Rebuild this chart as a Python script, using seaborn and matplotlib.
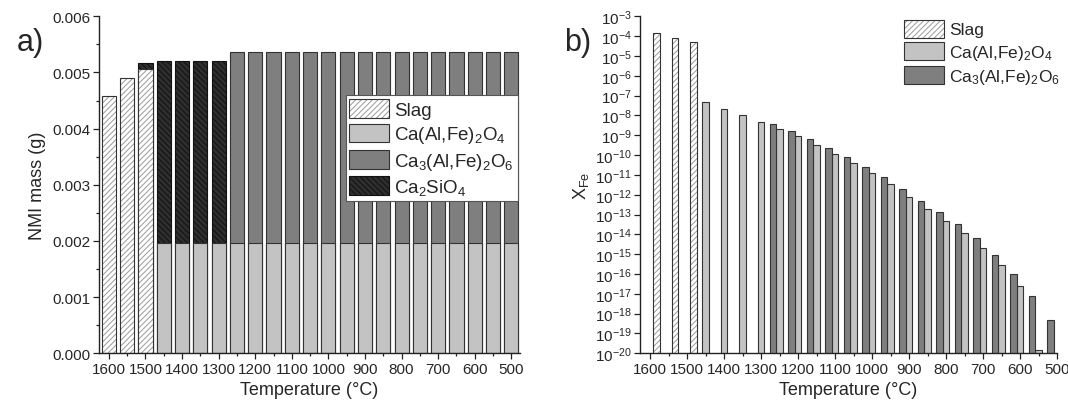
import numpy as np
import pandas as pd
import matplotlib
matplotlib.use("Agg")
import matplotlib.pyplot as plt
import seaborn as sns
from matplotlib.patches import Patch, Rectangle
from matplotlib.ticker import MultipleLocator, FormatStrFormatter, LogLocator, NullLocator

# ------------------------------------------------------------------ data
# panel a) NMI mass (g) per phase, stacked
slag_T = [1600, 1550, 1500]
slag_mass = [0.00458, 0.00490, 0.00506]

caal_T = [1450, 1400, 1350, 1300, 1250, 1200, 1150, 1100, 1050, 1000,
          950, 900, 850, 800, 750, 700, 650, 600, 550, 500]
caal_mass = [0.00197, 0.00197, 0.00197, 0.00197, 0.00197, 0.00197, 0.00197,
             0.00197, 0.00197, 0.00197, 0.00197, 0.00197, 0.00197, 0.00197,
             0.00197, 0.00197, 0.00197, 0.00197, 0.00197, 0.00197]

ca3_T = [1250, 1200, 1150, 1100, 1050, 1000, 950, 900, 850, 800,
         750, 700, 650, 600, 550, 500]
ca3_mass = [0.00339, 0.00339, 0.00339, 0.00339, 0.00339, 0.00339, 0.00339,
            0.00339, 0.00339, 0.00339, 0.00339, 0.00339, 0.00339, 0.00339,
            0.00339, 0.00339]

c2s_T = [1500, 1450, 1400, 1350, 1300]
c2s_mass = [0.00011, 0.00323, 0.00323, 0.00323, 0.00323]

# panel b) X_Fe per phase (log scale)
xfe_slag_T = [1600, 1550, 1500]
xfe_slag = [1.5e-4, 7.7e-5, 5.1e-5]

xfe_caal_T = [1450, 1400, 1350, 1300, 1250, 1200, 1150, 1100, 1050, 1000,
              950, 900, 850, 800, 750, 700, 650, 600, 550]
xfe_caal = [4.5e-8, 2.2e-8, 1.04e-8, 4.7e-9, 2.1e-9, 8.7e-10, 3.4e-10,
            1.18e-10, 4.1e-11, 1.2e-11, 3.4e-12, 8.1e-13, 1.9e-13, 5.0e-14,
            1.2e-14, 2.0e-15, 2.8e-16, 2.5e-17, 1.4e-20]

xfe_ca3_T = [1250, 1200, 1150, 1100, 1050, 1000, 950, 900, 850, 800,
             750, 700, 650, 600, 550, 500]
xfe_ca3 = [3.8e-9, 1.6e-9, 6.4e-10, 2.4e-10, 8.1e-11, 2.6e-11, 7.6e-12,
           1.9e-12, 4.6e-13, 1.4e-13, 3.5e-14, 6.3e-15, 9.1e-16, 9.7e-17,
           7.4e-18, 4.6e-19]

phase_labels = {
    "Slag": "Slag",
    "CaAl": "Ca(Al,Fe)$_2$O$_4$",
    "Ca3": "Ca$_3$(Al,Fe)$_2$O$_6$",
    "C2S": "Ca$_2$SiO$_4$",
}
x_ticks = [1600, 1500, 1400, 1300, 1200, 1100, 1000, 900, 800, 700, 600, 500]

# ------------------------------------------------------------------ style
sns.set_theme(style="ticks")
plt.rcParams["font.family"] = ["Liberation Sans", "DejaVu Sans"]
plt.rcParams["mathtext.default"] = "regular"
plt.rcParams["hatch.linewidth"] = 0.7

C_CAAL = "#c3c3c3"
C_CA3 = "#7f7f7f"
C_C2S = "#2e2e2e"
C_EDGE = "#333333"
C_HATCH = "#9a9a9a"
LW = 0.8
SLAG_HATCH = "//////"
C2S_HATCH = "\\\\\\\\\\\\"
FS_LAB = 13
FS_TICK = 11
FS_LEG = 13.5
FS_LEG_B = 12.5

fig = plt.figure(figsize=(10.68, 4.06), dpi=100)
axa = fig.add_axes([0.0927, 0.1273, 0.3940, 0.8301])
axb = fig.add_axes([0.5993, 0.1273, 0.3904, 0.8301])


def outline(ax, patches):
    for p in patches:
        ax.add_patch(Rectangle(p.get_xy(), p.get_width(), p.get_height(),
                               fill=False, edgecolor=C_EDGE, linewidth=LW,
                               zorder=p.get_zorder() + 0.1))


# ------------------------------------------------------------------ panel a
long_a = pd.concat([
    pd.DataFrame({"T": slag_T, "phase": "Slag", "mass": slag_mass}),
    pd.DataFrame({"T": caal_T, "phase": "CaAl", "mass": caal_mass}),
    pd.DataFrame({"T": ca3_T, "phase": "Ca3", "mass": ca3_mass}),
    pd.DataFrame({"T": c2s_T, "phase": "C2S", "mass": c2s_mass}),
])
order_a = ["Slag", "CaAl", "Ca3", "C2S"]
wide = long_a.pivot(index="T", columns="phase", values="mass").reindex(columns=order_a).fillna(0)
cum = wide.cumsum(axis=1)

styles_a = {
    "C2S": dict(color=C_C2S, edgecolor="#111111", hatch=C2S_HATCH, linewidth=LW),
    "Ca3": dict(color=C_CA3, edgecolor=C_EDGE, linewidth=LW),
    "CaAl": dict(color=C_CAAL, edgecolor=C_EDGE, linewidth=LW),
    "Slag": dict(color="white", edgecolor=C_HATCH, hatch=SLAG_HATCH, linewidth=0),
}
for ph in reversed(order_a):
    sel = wide[ph] > 0
    d = pd.DataFrame({"T": cum.index[sel].to_numpy(), "top": cum.loc[sel, ph].to_numpy()})
    sns.barplot(data=d, x="T", y="top", native_scale=True, width=0.77,
                errorbar=None, ax=axa, **styles_a[ph])
outline(axa, axa.containers[-1].patches)

axa.set_xlim(1627, 477)
axa.set_ylim(0, 0.006)
axa.yaxis.set_major_locator(MultipleLocator(0.001))
axa.yaxis.set_minor_locator(MultipleLocator(0.0005))
axa.yaxis.set_major_formatter(FormatStrFormatter("%.3f"))
axa.set_ylabel("NMI mass (g)", fontsize=FS_LAB, labelpad=5)

leg_handles_a = [
    (Patch(facecolor="white", edgecolor=C_HATCH, hatch=SLAG_HATCH, linewidth=0),
     Patch(fill=False, edgecolor=C_EDGE, linewidth=LW)),
    Patch(facecolor=C_CAAL, edgecolor=C_EDGE, linewidth=LW),
    Patch(facecolor=C_CA3, edgecolor=C_EDGE, linewidth=LW),
    Patch(facecolor=C_C2S, edgecolor="#111111", hatch=C2S_HATCH, linewidth=LW),
]
leg_a = axa.legend(leg_handles_a, [phase_labels[p] for p in order_a],
                   loc="upper right", bbox_to_anchor=(0.995, 0.765),
                   fontsize=FS_LEG, handlelength=2.1, handleheight=1.15,
                   handletextpad=0.3, labelspacing=0.25, borderpad=0.2,
                   borderaxespad=0.0, fancybox=False, framealpha=1,
                   edgecolor="#555555")
leg_a.get_frame().set_linewidth(0.8)

# ------------------------------------------------------------------ panel b
long_b = pd.concat([
    pd.DataFrame({"T": xfe_slag_T, "phase": "Slag", "xfe": xfe_slag}),
    pd.DataFrame({"T": xfe_caal_T, "phase": "CaAl", "xfe": xfe_caal}),
    pd.DataFrame({"T": xfe_ca3_T, "phase": "Ca3", "xfe": xfe_ca3}),
])
order_b = ["Slag", "CaAl", "Ca3"]
axb.set_yscale("log")
sns.barplot(data=long_b, x="T", y="xfe", hue="phase", hue_order=order_b,
            palette={"Slag": "white", "CaAl": C_CAAL, "Ca3": C_CA3},
            native_scale=True, dodge=True, width=1.07, errorbar=None,
            edgecolor=C_EDGE, linewidth=LW, legend=False, ax=axb)
slag_bars = axb.containers[0].patches
for p in slag_bars:
    p.set_facecolor("white")
    p.set_edgecolor(C_HATCH)
    p.set_hatch(SLAG_HATCH)
    p.set_linewidth(0)
outline(axb, slag_bars)

axb.set_xlim(1627, 500)
axb.set_ylim(1e-20, 1e-3)
axb.yaxis.set_major_locator(LogLocator(base=10, numticks=40))
axb.yaxis.set_minor_locator(NullLocator())
axb.set_ylabel("X$_{Fe}$", fontsize=FS_LAB, labelpad=3)

leg_handles_b = leg_handles_a[:3]
axb.legend(leg_handles_b, [phase_labels[p] for p in order_b],
           loc="upper left", bbox_to_anchor=(0.63, 0.995),
           fontsize=FS_LEG_B, handlelength=2.3, handleheight=1.2,
           handletextpad=0.25, labelspacing=0.25, borderpad=0.1,
           borderaxespad=0.0, frameon=False)

# ------------------------------------------------------------------ common axes styling
for ax in (axa, axb):
    ax.set_xticks(x_ticks)
    ax.xaxis.set_minor_locator(MultipleLocator(50))
    ax.xaxis.set_major_formatter(FormatStrFormatter("%d"))
    ax.set_xlabel("Temperature (\u00b0C)", fontsize=FS_LAB, labelpad=4)
    ax.tick_params(axis="both", which="major", direction="out", length=4,
                   width=0.9, labelsize=FS_TICK, color="#222222", pad=2)
    ax.tick_params(axis="both", which="minor", direction="out", length=2.5,
                   width=0.9, color="#222222")
    for s in ("top", "right"):
        ax.spines[s].set_visible(False)
    for s in ("left", "bottom"):
        ax.spines[s].set_linewidth(1.0)
        ax.spines[s].set_color("#222222")

fig.text(0.028, 0.895, "a)", fontsize=22, ha="center", va="center")
fig.text(0.541, 0.895, "b)", fontsize=22, ha="center", va="center")

fig.savefig("out.png", dpi=100)
